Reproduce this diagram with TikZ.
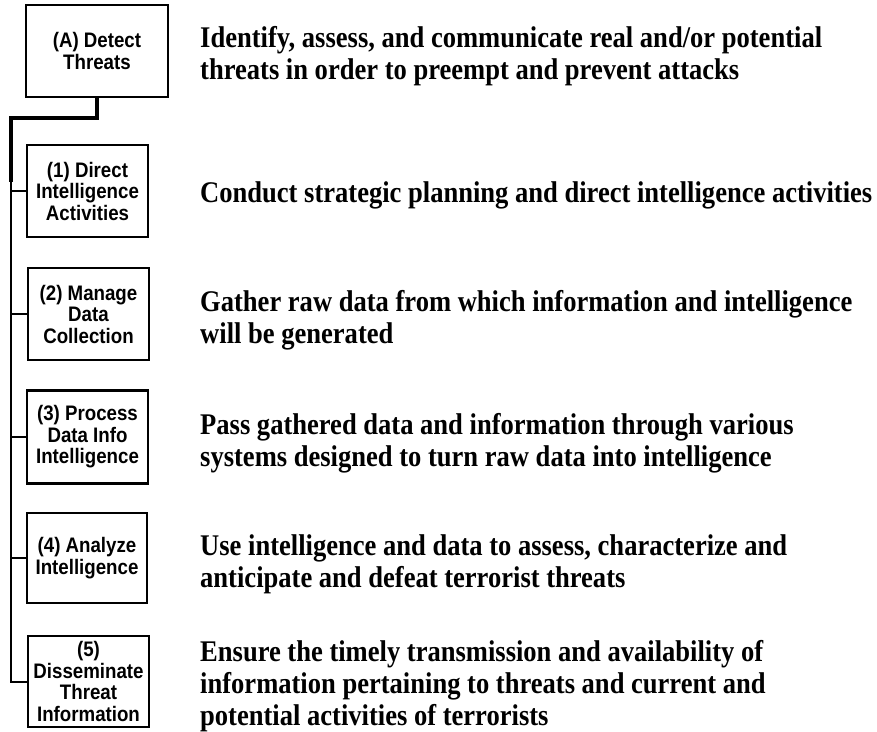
\documentclass[tikz,border=0pt]{standalone}
\usepackage{fontspec}
\setmainfont{Liberation Serif}
\newfontfamily\descfont[FakeStretch=0.885]{Liberation Serif}
\newfontfamily\boxfont[FakeStretch=0.89]{Liberation Sans}
\begin{document}
\begin{tikzpicture}[x=1pt,y=-1pt,
  stepbox/.style={draw, line width=2.2pt, inner sep=0pt, align=center,
    font=\boxfont\bfseries\fontsize{21}{21.5}\selectfont},
  desc/.style={anchor=base west, inner sep=0pt, align=left,
    font=\descfont\bfseries\fontsize{30}{32}\selectfont},
  trunkline/.style={line width=3.5pt},
  stemline/.style={line width=2pt},
  stub/.style={line width=1.3pt}]
\useasboundingbox (0,0) rectangle (877,731);
% boxes
\node[stepbox, minimum width=142pt, minimum height=92pt] (boxA) at (97,51) {(A) Detect\\Threats};
\node[stepbox, minimum width=121pt, minimum height=92pt] (box1) at (87.5,191) {(1) Direct\\Intelligence\\Activities};
\node[stepbox, minimum width=121pt, minimum height=92pt] (box2) at (88.5,314) {(2) Manage\\Data\\Collection};
\node[stepbox, minimum width=121pt, minimum height=93pt] (box3) at (87.5,437) {(3) Process\\Data Info\\Intelligence};
\node[stepbox, minimum width=120pt, minimum height=90pt] (box4) at (87,558) {(4) Analyze\\Intelligence};
\node[stepbox, minimum width=121pt, minimum height=91pt] (box5) at (88.5,681.5) {(5)\\Disseminate\\Threat\\Information};
% descriptions (anchored at last baseline)
\node[desc] (tA) at (200,79) {Identify, assess, and communicate real and/or potential\\threats in order to preempt and prevent attacks};
\node[desc] (t1) at (200,202) {Conduct strategic planning and direct intelligence activities};
\node[desc] (t2) at (200,343) {Gather raw data from which information and intelligence\\will be generated};
\node[desc] (t3) at (200,466) {Pass gathered data and information through various\\systems designed to turn raw data into intelligence};
\node[desc] (t4) at (200,587) {Use intelligence and data to assess, characterize and\\anticipate and defeat terrorist threats};
\node[desc] (t5) at (200,725) {Ensure the timely transmission and availability of\\information pertaining to threats and current and\\potential activities of terrorists};
% connectors
\coordinate (junction) at (11,118);
\coordinate (trunkend) at (11,182);
\draw[trunkline] (boxA.south) |- (junction) -- (trunkend);
\draw[stemline] (trunkend) |- (box5.west);
\foreach \b in {box1,box2,box3,box4}
  \draw[stub] (junction |- \b.west) -- (\b.west);
\end{tikzpicture}
\end{document}
